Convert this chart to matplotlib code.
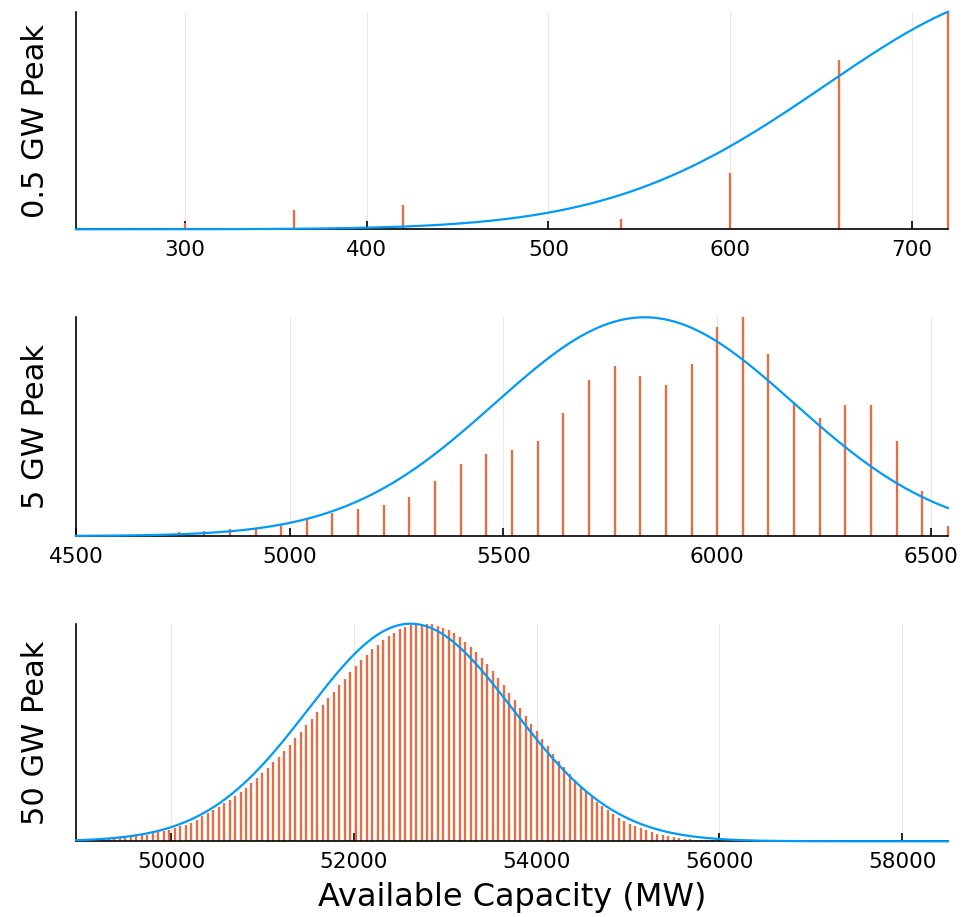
import numpy as np
import matplotlib
matplotlib.use("Agg")
import matplotlib.pyplot as plt

BLUE = "#009af9"
ORANGE = "#e26f46"

# capacity outage tables (probability, scaled to peak) on a 60 MW grid
step = 60

cap_05 = [300, 360, 420, 480, 540, 600, 660, 720]
prob_05 = [0.031, 0.087, 0.112, 0.006, 0.049, 0.257, 0.778, 1.0]

cap_5_start = 4560
prob_5 = [0.003, 0.005, 0.009, 0.017, 0.023, 0.030, 0.038, 0.052, 0.076,
          0.104, 0.125, 0.143, 0.180, 0.250, 0.328, 0.375, 0.392, 0.436,
          0.561, 0.713, 0.777, 0.730, 0.691, 0.787, 0.957, 1.0, 0.832,
          0.614, 0.540, 0.599, 0.599, 0.436, 0.206, 0.046]

cap_50_start = 49020
prob_50 = [0.002, 0.003, 0.004, 0.006, 0.008, 0.011, 0.014, 0.015, 0.018, 0.021,
           0.024, 0.028, 0.031, 0.037, 0.041, 0.046, 0.052, 0.061, 0.069, 0.077,
           0.086, 0.096, 0.114, 0.130, 0.144, 0.159, 0.175, 0.190, 0.208, 0.228,
           0.245, 0.268, 0.289, 0.314, 0.337, 0.363, 0.389, 0.417, 0.444, 0.475,
           0.502, 0.533, 0.564, 0.594, 0.625, 0.657, 0.688, 0.718, 0.747, 0.778,
           0.804, 0.832, 0.858, 0.882, 0.904, 0.925, 0.943, 0.959, 0.974, 0.985,
           0.994, 0.998, 1.0, 0.999, 0.997, 0.991, 0.982, 0.969, 0.956, 0.937,
           0.917, 0.893, 0.870, 0.842, 0.813, 0.783, 0.750, 0.717, 0.681, 0.648,
           0.613, 0.576, 0.541, 0.505, 0.470, 0.436, 0.403, 0.371, 0.340, 0.311,
           0.281, 0.253, 0.228, 0.204, 0.182, 0.161, 0.142, 0.124, 0.109, 0.095,
           0.081, 0.070, 0.060, 0.051, 0.041, 0.035, 0.029, 0.023, 0.018, 0.015,
           0.012, 0.009, 0.008, 0.006, 0.005, 0.004, 0.003, 0.002, 0.002, 0.001] + [0.001] * 39

# normal approximations: (mean, sd) in MW
norm_05 = (770, 117)
norm_5 = (5830, 350)
norm_50 = (52620, 1120)

panels = [
    ("0.5 GW Peak", np.array(cap_05), prob_05, norm_05, (240, 720), np.arange(300, 701, 100)),
    ("5 GW Peak", cap_5_start + step * np.arange(len(prob_5)), prob_5, norm_5,
     (4500, 6540), np.arange(4500, 6501, 500)),
    ("50 GW Peak", cap_50_start + step * np.arange(len(prob_50)), prob_50, norm_50,
     (48960, 58500), np.arange(50000, 58001, 2000)),
]

fig = plt.figure(figsize=(9.63, 9.17), dpi=100)
W, H = 963, 917
left, right = 76, 948
boxes = [(11.7, 229.3), (317.3, 536.0), (623.7, 841.3)]

for (label, xs, ps, (mu, sd), xlim, ticks), (top, bot) in zip(panels, boxes):
    ax = fig.add_axes([left / W, 1 - bot / H, (right - left) / W, (bot - top) / H])
    ax.vlines(xs, 0, ps, color=ORANGE, lw=1.7, zorder=2, clip_on=False)
    xx = np.linspace(xlim[0], xlim[1], 600)
    yy = np.exp(-0.5 * ((xx - mu) / sd) ** 2)
    yy = yy / yy.max()
    ax.plot(xx, yy, color=BLUE, lw=1.6, zorder=4, clip_on=False)
    ax.set_xlim(*xlim)
    ax.set_ylim(0, 1)
    ax.set_xticks(ticks)
    ax.set_yticks([])
    ax.grid(axis="x", color="#e8e8e8", lw=0.8)
    ax.set_axisbelow(True)
    for s in ("top", "right"):
        ax.spines[s].set_visible(False)
    for s in ("left", "bottom"):
        ax.spines[s].set_linewidth(1.2)
    ax.tick_params(axis="x", direction="in", length=6, width=1.2, labelsize=15.5, pad=8)
    ax.set_ylabel(label, fontsize=22, labelpad=19)

ax.set_xlabel("Available Capacity (MW)", fontsize=23, labelpad=7)

fig.savefig("out.png", dpi=100)
